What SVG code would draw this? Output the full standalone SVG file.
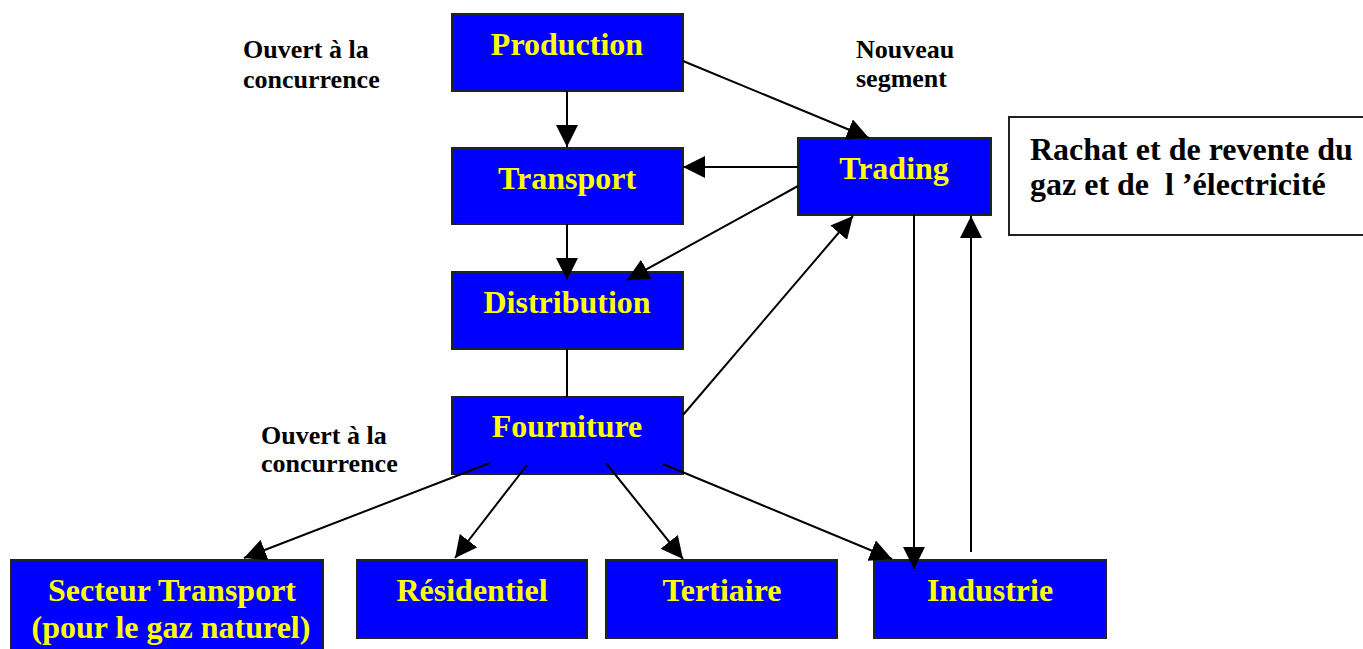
<svg xmlns="http://www.w3.org/2000/svg" width="1363" height="649" viewBox="0 0 1363 649">
<style>
.box{fill:#0000FF;stroke:#222;stroke-width:2}
.nt{font-family:"Liberation Serif","Times New Roman",serif;font-weight:bold;font-size:32px;fill:#FFFF00;text-anchor:middle}
.lb{font-family:"Liberation Serif","Times New Roman",serif;font-weight:bold;font-size:26px;fill:#000}
.rt{font-family:"Liberation Serif","Times New Roman",serif;font-weight:bold;font-size:32px;fill:#000}
.c{stroke:#000;stroke-width:2;fill:none}
.a{marker-end:url(#ah)}
</style>
<defs>
<marker id="ah" markerUnits="userSpaceOnUse" markerWidth="22" markerHeight="22" viewBox="0 0 22 22" refX="22" refY="11" orient="auto">
<path d="M0,0 L22,11 L0,22 z" fill="#000"/>
</marker>
</defs>
<rect width="1363" height="649" fill="#fff"/>
<g id="label-ouvert1"><text class="lb" x="243" y="58">Ouvert à la</text><text class="lb" x="243" y="88">concurrence</text></g>
<g id="label-nouveau"><text class="lb" x="856" y="58">Nouveau</text><text class="lb" x="856" y="87">segment</text></g>
<g id="label-ouvert2"><text class="lb" x="261" y="444">Ouvert à la</text><text class="lb" x="261" y="472">concurrence</text></g>
<g id="rachat"><rect x="1009" y="117" width="360" height="118" fill="#fff" stroke="#222" stroke-width="2"/><text class="rt" x="1030" y="160">Rachat et de revente du</text><text class="rt" x="1030" y="195" xml:space="preserve">gaz et de  l ’électricité</text></g>
<g id="production"><rect class="box" x="452" y="14" width="231" height="77"/><text class="nt" x="567" y="55">Production</text></g>
<g id="transport"><rect class="box" x="452" y="148" width="231" height="76"/><text class="nt" x="567" y="189">Transport</text></g>
<g id="trading"><rect class="box" x="798" y="138" width="193" height="77"/><text class="nt" x="894" y="179">Trading</text></g>
<g id="distribution"><rect class="box" x="452" y="272" width="231" height="77"/><text class="nt" x="567" y="313">Distribution</text></g>
<g id="fourniture"><rect class="box" x="452" y="397" width="231" height="77"/><text class="nt" x="567" y="437">Fourniture</text></g>
<g id="secteur-transport"><rect class="box" x="11" y="560" width="312" height="100"/><text class="nt" x="172" y="601">Secteur Transport</text><text class="nt" x="171" y="638">(pour le gaz naturel)</text></g>
<g id="residentiel"><rect class="box" x="357" y="560" width="230" height="78"/><text class="nt" x="472" y="601">Résidentiel</text></g>
<g id="tertiaire"><rect class="box" x="606" y="560" width="231" height="78"/><text class="nt" x="722" y="601">Tertiaire</text></g>
<g id="industrie"><rect class="box" x="874" y="560" width="232" height="78"/><text class="nt" x="990" y="601">Industrie</text></g>
<g id="connectors">
<path class="c a" d="M567,91 L567,147"/>
<path class="c a" d="M683,61 L869,138"/>
<path class="c a" d="M798,167 L683,167"/>
<path class="c a" d="M798,186 L627,280"/>
<path class="c a" d="M567,224 L567,280"/>
<path class="c" d="M567,349 L567,397"/>
<path class="c a" d="M683,415 L853,216"/>
<path class="c a" d="M914,215 L914,569"/>
<path class="c a" d="M971,552 L971,216"/>
<path class="c a" d="M490,463 L244,558"/>
<path class="c a" d="M527,465 L455,558"/>
<path class="c a" d="M606,463 L683,559"/>
<path class="c a" d="M663,464 L892,559"/>
</g>
</svg>
